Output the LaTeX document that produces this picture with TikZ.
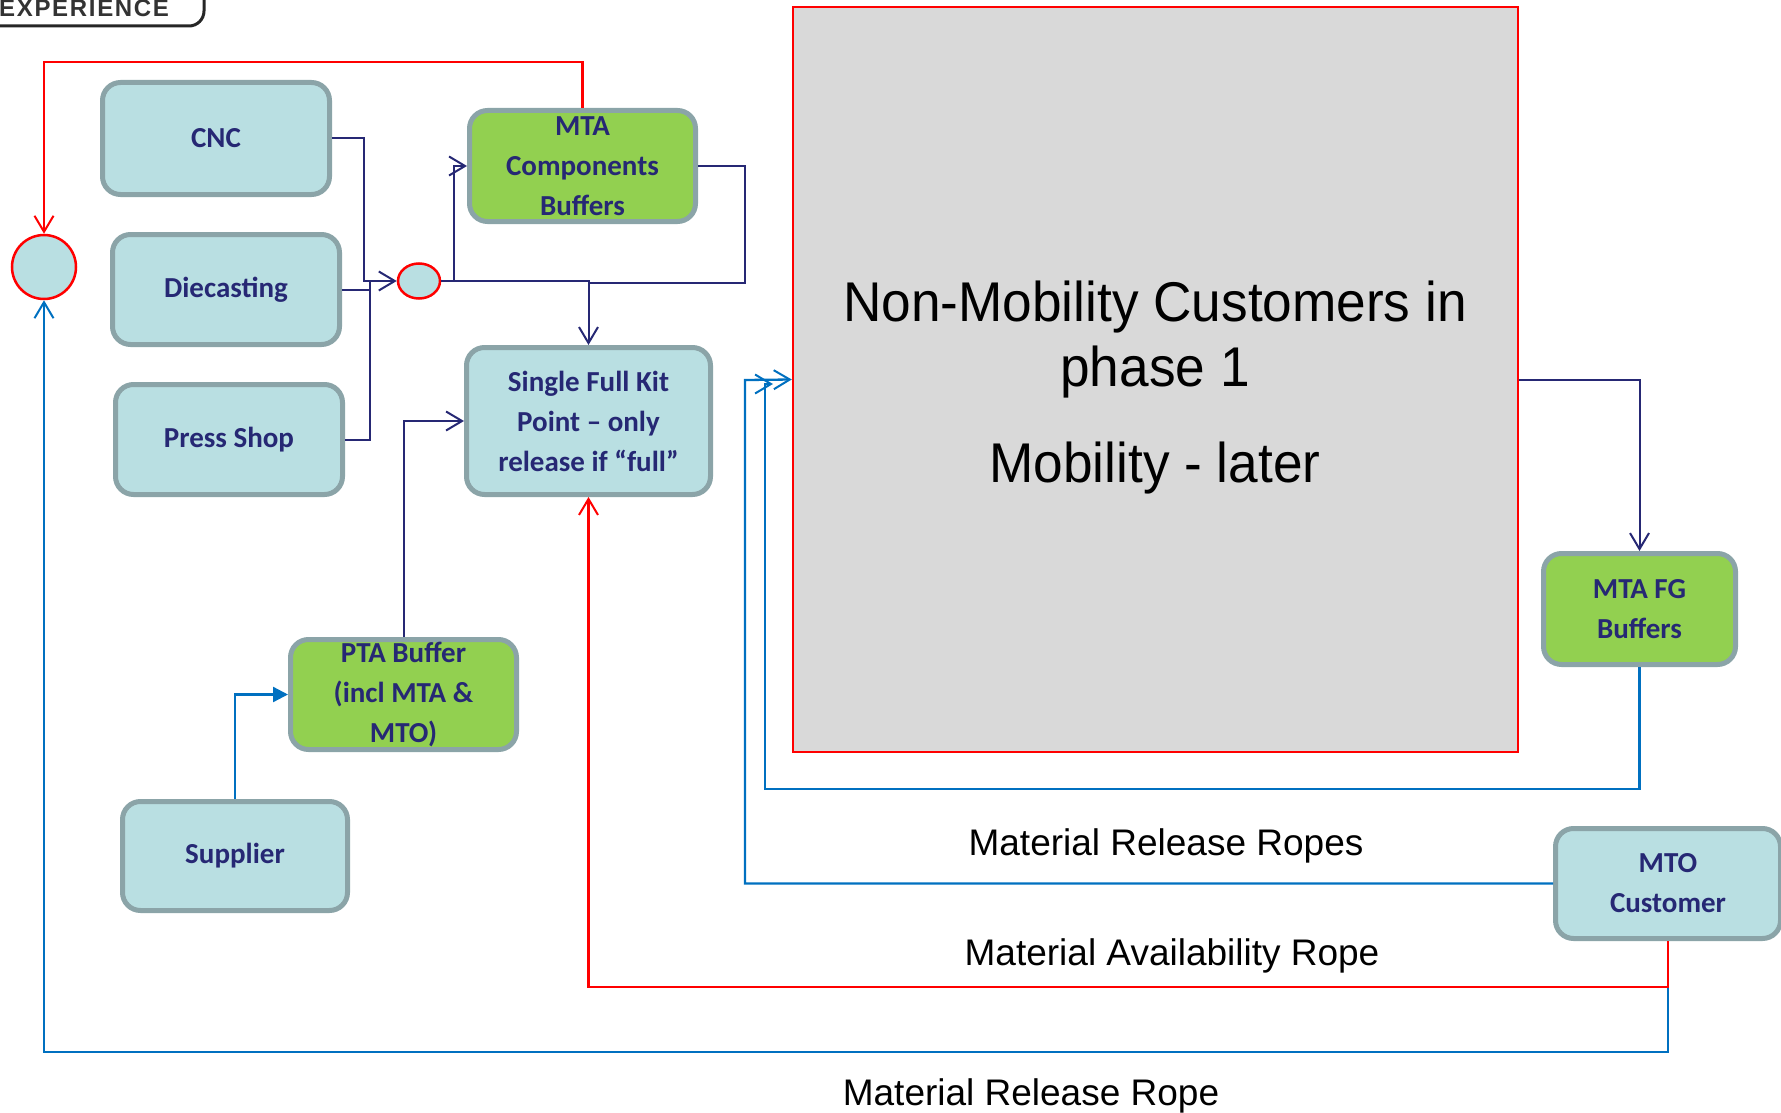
\documentclass[tikz,border=0pt]{standalone}
\usepackage{fontspec}
\setmainfont{Liberation Sans}
\newfontfamily\boxfont{Carlito}
\newfontfamily\logofont[LetterSpace=7]{Liberation Sans}
\usetikzlibrary{arrows.meta,shapes.geometric}
\definecolor{boxblue}{RGB}{185,223,226}
\definecolor{boxedge}{RGB}{139,164,168}
\definecolor{boxgreen}{RGB}{146,208,80}
\definecolor{navy}{RGB}{38,40,116}
\definecolor{ropeblue}{RGB}{0,112,192}
\definecolor{greyfill}{RGB}{217,217,217}
\begin{document}
\begin{tikzpicture}[x=1pt,y=-1pt,
  proc/.style={rectangle, rounded corners=18pt, draw=boxedge, line width=5pt, fill=boxblue,
    text=navy, font=\boxfont\bfseries\fontsize{29}{40}\selectfont, align=center, inner sep=0pt},
  buf/.style={proc, fill=boxgreen},
  barb/.style={-{Straight Barb[length=16pt,width=19pt,line width=2pt]}},
  flow/.style={draw=navy, line width=2pt},
  redrope/.style={draw=red, line width=2.3pt},
  bluerope/.style={draw=ropeblue, line width=2.3pt},
  bigtext/.style={font=\fontsize{56}{60}\selectfont, anchor=base, inner sep=0pt},
  ropelabel/.style={font=\fontsize{37}{40}\selectfont, anchor=base, inner sep=0pt}
]
\useasboundingbox (0,0) rectangle (1781,1113);

% logo fragment
\draw[line width=3pt, black!85, rounded corners=15pt] (-5,26) -- (204,26) -- (204,-5);
\node[anchor=base west, inner sep=0pt, font=\logofont\bfseries\fontsize{24}{24}\selectfont, text=black!80] (logo) at (-1,17) {EXPERIENCE};

% grey block
\node[draw=red, fill=greyfill, line width=2.5pt, minimum width=725pt, minimum height=745pt, inner sep=0pt] (grey) at (1155.5,379.5) {};
\node[bigtext] (g1) at (1155,321) {\scalebox{0.95}[1]{Non-Mobility Customers in}};
\node[bigtext] (g2) at (1155,386) {\scalebox{0.95}[1]{phase 1}};
\node[bigtext] (g3) at (1155,482) {\scalebox{0.95}[1]{Mobility - later}};

% boxes
\node[proc, minimum width=227pt, minimum height=112pt] (cnc) at (216,138.5) {\raisebox{-3pt}{CNC}};
\node[proc, minimum width=227pt, minimum height=110pt] (die) at (226,289.5) {\raisebox{-3pt}{Diecasting}};
\node[proc, minimum width=227pt, minimum height=110pt] (press) at (229,439.5) {\raisebox{-3pt}{Press Shop}};
\node[buf, minimum width=226pt, minimum height=111pt] (mtac) at (582.5,166) {MTA\\Components\\Buffers};
\node[proc, minimum width=244pt, minimum height=147pt] (sfk) at (588.5,421) {Single Full Kit\\Point – only\\release if “full”};
\node[buf, minimum width=226pt, minimum height=110pt] (pta) at (403.5,694.5) {PTA Buffer\\(incl MTA \&\\MTO)};
\node[proc, minimum width=225pt, minimum height=109pt] (sup) at (235,856) {\raisebox{-3pt}{Supplier}};
\node[buf, minimum width=192pt, minimum height=111pt] (mtafg) at (1639.5,609) {MTA FG\\Buffers};
\node[proc, minimum width=225pt, minimum height=110pt] (mto) at (1668,883.5) {MTO\\Customer};

% circles
\node[circle, draw=red, fill=boxblue, line width=2.5pt, minimum size=64pt, inner sep=0pt] (bigc) at (44,267) {};
\node[ellipse, draw=red, fill=boxblue, line width=2.5pt, minimum width=42pt, minimum height=35pt, inner sep=0pt] (smallc) at (419,281) {};

% rope labels
\node[ropelabel] (l1) at (1166,855) {Material Release Ropes};
\node[ropelabel] (l2) at (1172,965) {Material Availability Rope};
\node[ropelabel] (l3) at (1031,1105) {Material Release Rope};

% navy flows
\draw[flow, barb] (cnc.east) -| (364,281) -- (smallc.west);
\draw[flow] (die.east) -- (370,289.5);
\draw[flow] (press.east) -| (370,281) -- (376,281);
\draw[flow, barb] (smallc.east) -- (454,281) |- (mtac.west);
\draw[flow, barb] (smallc.east) -| (sfk.north);
\draw[flow] (mtac.east) -| (745,283) -- (588.5,283);
\draw[flow, barb] (pta.north) |- (sfk.west);
\draw[flow, barb] (grey.east) -| (mtafg.north);

% supplier
\draw[bluerope, -{Triangle[length=15pt,width=15pt]}] (sup.north) |- (pta.west);

% blue ropes
\coordinate (gin2) at (773,384);
\draw[bluerope, barb] (mtafg.south) -- (1639.5,789) -| (765,384) -- (gin2);
\draw[bluerope, barb] (mto.west) -| (745,380) -- (grey.west);
\draw[bluerope, barb] (mto.south) -- (1668,1052) -| (bigc.south);

% red ropes
\draw[redrope, barb] (mto.south) -- (1668,987) -| (sfk.south);
\draw[redrope, barb] (mtac.north) -- (582.5,62) -| (bigc.north);
\end{tikzpicture}
\end{document}
